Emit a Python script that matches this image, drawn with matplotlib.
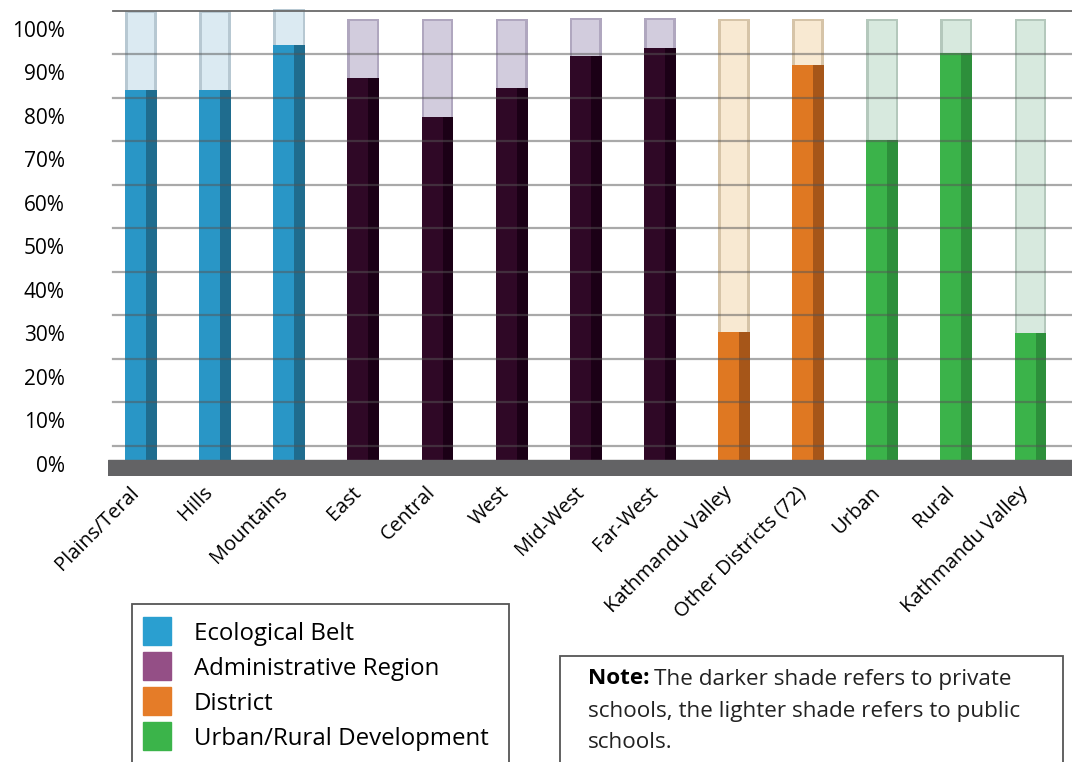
import numpy as np
import matplotlib
matplotlib.use("Agg")
import matplotlib.pyplot as plt
import matplotlib.transforms as mtransforms
from matplotlib.patches import Rectangle

plt.rcParams['font.family'] = ['Open Sans', 'DejaVu Sans']

# data (percent of schools)
categories = ['Plains/Teral', 'Hills', 'Mountains', 'East', 'Central', 'West',
              'Mid-West', 'Far-West', 'Kathmandu Valley', 'Other Districts (72)',
              'Urban', 'Rural', 'Kathmandu Valley']
private = [81.8, 81.8, 92.2, 84.6, 75.6, 82.3, 89.7, 91.5, 26.2, 87.6, 70.3, 90.3, 26.0]
total = [100.0, 100.0, 100.5, 98.2, 98.2, 98.2, 98.4, 98.4, 98.2, 98.2, 98.2, 98.2, 98.2]
groups = ['Ecological Belt'] * 3 + ['Administrative Region'] * 5 + \
         ['District'] * 2 + ['Urban/Rural Development'] * 3
group_names = ['Ecological Belt', 'Administrative Region', 'District',
               'Urban/Rural Development']
yticks = list(range(0, 101, 10))

# colours per group: front, side, light, light edge, legend
styles = {
    'Ecological Belt': ('#2996c6', '#1f6c8e', '#dbeaf2', '#b7c8d2', '#2a9fd0'),
    'Administrative Region': ('#2f0826', '#1b0016', '#d2ccdd', '#b0a7bf', '#944f86'),
    'District': ('#df7822', '#a65619', '#f8e9d2', '#d6c4a8', '#e57c28'),
    'Urban/Rural Development': ('#3bb34a', '#2d8f3b', '#d7e9de', '#b4c8bc', '#3bb44a'),
}

floor_top = -3.2
floor_bot = -6.9

fig = plt.figure(figsize=(10.72, 7.62), dpi=100)
ax = fig.add_axes([108 / 1072, 1 - 476 / 762, 1 - 108 / 1072, 476 / 762])

x = np.arange(len(categories))
front_w = 0.283
side_w = 0.147
left = x - (front_w + side_w) / 2

for i in range(len(categories)):
    front, side, light, ledge, _ = styles[groups[i]]
    # lighter (public) part on top
    ax.bar(left[i], total[i] - private[i], width=front_w + side_w, bottom=private[i],
           align='edge', color=ledge, zorder=2)
    ax.bar(left[i] + 0.035, total[i] - private[i] - 0.5, width=front_w + side_w - 0.07,
           bottom=private[i], align='edge', color=light, zorder=2)
    # darker (private) part
    ax.bar(left[i], private[i] - floor_top, width=front_w, bottom=floor_top,
           align='edge', color=front, zorder=3)
    ax.bar(left[i] + front_w, private[i] - floor_top, width=side_w, bottom=floor_top,
           align='edge', color=side, zorder=3)

# floor
ax.axhspan(floor_bot, floor_top, color='#636365', zorder=4)

# gridlines drawn over the bars
for v in yticks:
    if v == 100:
        ax.axhline(v, xmin=5 / 964, color='#6a6a6a', lw=1.3, zorder=5)
    else:
        ax.axhline(v, xmin=5 / 964, color='#555555', lw=1.6, alpha=0.5, zorder=5)

ax.set_xlim(-0.445, 12.56)
ax.set_ylim(floor_bot, 102.5)
for s in ax.spines.values():
    s.set_visible(False)

ax.set_yticks(yticks)
ax.set_yticklabels([f'{v}%' for v in yticks], fontsize=15)
ax.tick_params(axis='y', length=0, pad=31)
offset = mtransforms.ScaledTranslation(0, -0.18, fig.dpi_scale_trans)
for lab in ax.get_yticklabels():
    lab.set_transform(lab.get_transform() + offset)

ax.set_xticks(x)
ax.set_xticklabels(categories, fontsize=14.5, rotation=45, ha='right',
                   va='center', rotation_mode='anchor')
ax.tick_params(axis='x', length=0, pad=12)
xoff = mtransforms.ScaledTranslation(-0.05, 0.03, fig.dpi_scale_trans)
for lab in ax.get_xticklabels():
    lab.set_transform(lab.get_transform() + xoff)

# legend box
W, H = 1072, 762
fig.patches.append(Rectangle((132 / W, 1 - 780 / H), 377 / W, 176 / H,
                             transform=fig.transFigure, fill=False,
                             edgecolor='#555555', lw=1.3))
for k, name in enumerate(group_names):
    yc = 631 + 35 * k
    fig.patches.append(Rectangle((143 / W, 1 - (yc + 14) / H), 28 / W, 28 / H,
                                 transform=fig.transFigure,
                                 color=styles[name][4]))
    fig.text(194 / W, 1 - (yc + 3) / H, name, fontsize=17.3, va='center', ha='left')

# note box
fig.patches.append(Rectangle((560 / W, 1 - 780 / H), 503 / W, 124 / H,
                             transform=fig.transFigure, fill=False,
                             edgecolor='#555555', lw=1.3))
note_lines = ['The darker shade refers to private',
              'schools, the lighter shade refers to public',
              'schools.']
note_fs = 16.2
bold = fig.text(588 / W, 1 - 679 / H, 'Note:', fontsize=note_fs, fontweight='bold',
                va='center', ha='left')
renderer = fig.canvas.get_renderer()
bx = bold.get_window_extent(renderer).x1
fig.text((bx + 5) / W, 1 - 679 / H, note_lines[0], fontsize=note_fs, va='center',
         ha='left', color='#222222')
fig.text(588 / W, 1 - 711 / H, note_lines[1], fontsize=note_fs, va='center',
         ha='left', color='#222222')
fig.text(588 / W, 1 - 743 / H, note_lines[2], fontsize=note_fs, va='center',
         ha='left', color='#222222')

fig.savefig('out.png', dpi=100)
